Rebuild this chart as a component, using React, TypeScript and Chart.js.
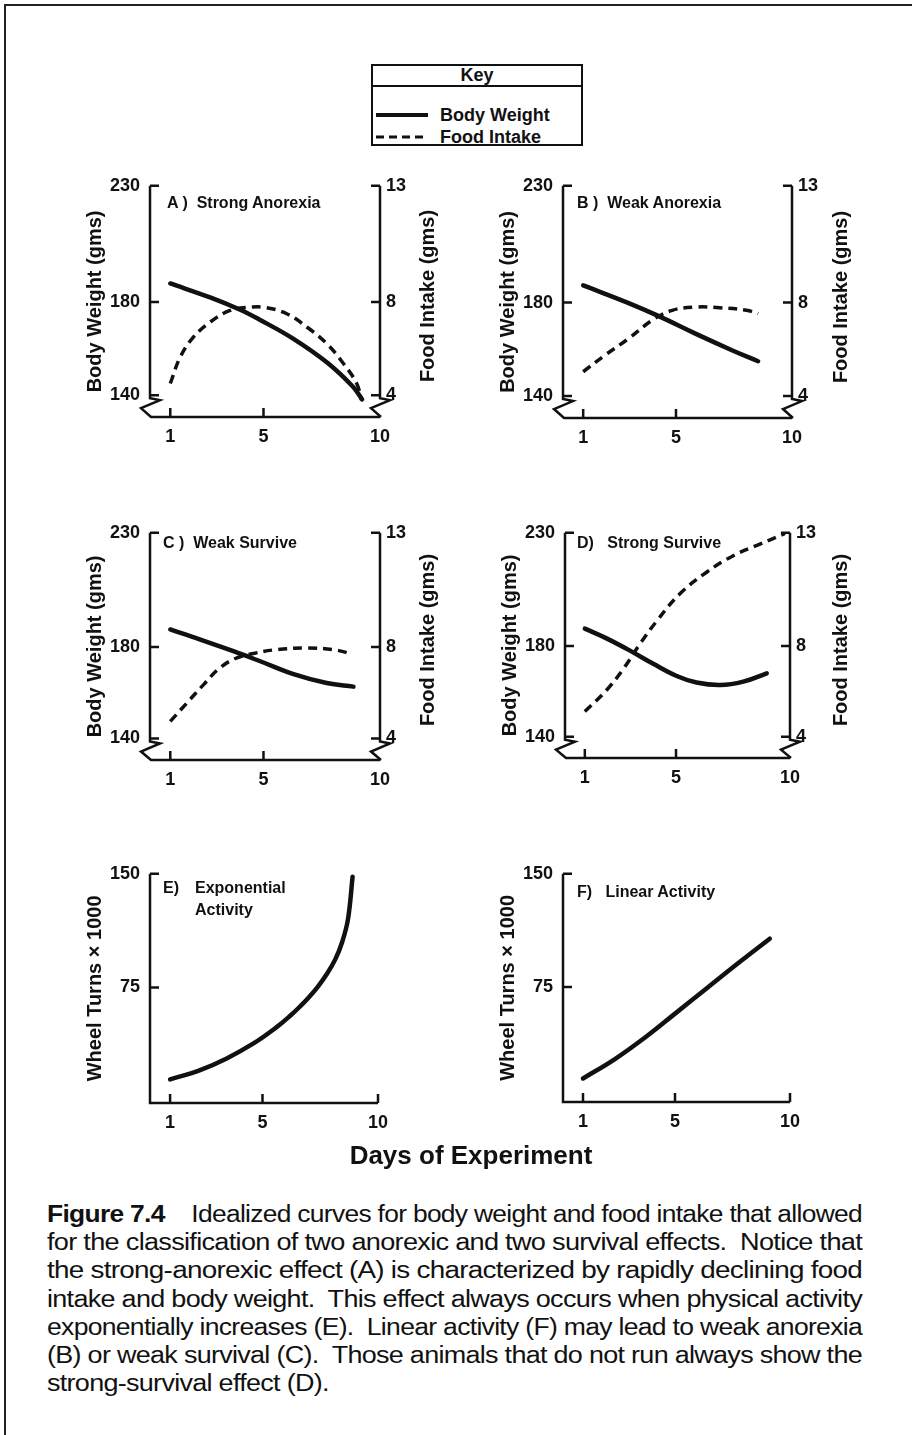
import React, { useEffect, useLayoutEffect, useRef } from "react";
import { Chart, registerables } from "chart.js";

Chart.register(...registerables);

const INK = "#111111";
const FONT = "'Liberation Sans', Arial, Helvetica, sans-serif";

// ---------- axis ticks ----------
const dayTicks = [1, 5, 10];
const weightTicks = [140, 180, 230];
const foodTicks = [4, 8, 13];
const wheelTicks = [75, 150];

// ---------- A) Strong Anorexia ----------
const aWeightDays = [1, 2.71, 4.0, 4.86, 6.27, 7.73, 8.84, 9.23];
const aWeight = [188.0, 182.0, 176.7, 172.3, 164.3, 154.0, 143.6, 138.2];
const aFoodDays = [1, 1.43, 2.0, 2.71, 3.57, 4.43, 5.14, 6.0, 6.86, 7.71, 8.43, 9.0, 9.21];
const aFood = [4.5, 5.64, 6.5, 7.14, 7.64, 7.78, 7.76, 7.5, 6.93, 6.22, 5.36, 4.5, 3.79];

// ---------- B) Weak Anorexia ----------
const bWeightDays = [1, 2.96, 4.26, 5.86, 7.46, 8.54];
const bWeight = [187.4, 179.8, 174.2, 166.6, 159.4, 154.9];
const bFoodDays = [1, 1.94, 2.96, 3.97, 4.84, 5.86, 6.87, 8.03, 8.54];
const bFood = [5.04, 5.75, 6.46, 7.24, 7.67, 7.81, 7.78, 7.67, 7.53];

// ---------- C) Weak Survive ----------
const cWeightDays = [1, 2.29, 3.71, 4.86, 6.29, 7.71, 8.86];
const cWeight = [187.7, 183.3, 178.2, 173.8, 168.2, 164.3, 162.7];
const cFoodDays = [1, 1.71, 2.43, 3.14, 3.86, 4.57, 5.57, 6.86, 8.0, 8.79];
const cFood = [4.75, 5.55, 6.36, 7.1, 7.53, 7.72, 7.89, 7.96, 7.89, 7.7];

// ---------- D) Strong Survive ----------
const dWeightDays = [1, 1.95, 2.98, 4.0, 5.03, 5.9, 6.93, 7.95, 8.98];
const dWeight = [187.7, 183.4, 178.0, 172.2, 166.8, 163.9, 162.8, 164.3, 168.0];
const dFoodDays = [1, 1.95, 2.68, 3.41, 4.15, 5.17, 6.34, 7.51, 8.68, 9.78];
const dFood = [5.11, 6.05, 6.98, 8.08, 9.1, 10.31, 11.26, 11.99, 12.5, 12.97];

// ---------- E) Exponential Activity ----------
const eDays = [1, 2.3, 3.45, 4.61, 5.57, 6.2, 6.63, 7.0, 7.4, 7.77, 8.15, 8.45, 8.7, 8.9];
const eTurns = [14.3, 20.4, 28.1, 38.0, 48.3, 56.3, 62.5, 68.4, 75.6, 83.5, 93.5, 105.0, 120.0, 148.0];

// ---------- F) Linear Activity ----------
const fDays = [1, 2.37, 3.81, 4.96, 6.41, 7.85, 9.12];
const fTurns = [14.3, 27.0, 42.8, 56.8, 74.5, 92.0, 107.0];

// ---------- caption ----------
const captionLines = [
  "Idealized curves for body weight and food intake that allowed",
  "for the classification of two anorexic and two survival effects.  Notice that",
  "the strong-anorexic effect (A) is characterized by rapidly declining food",
  "intake and body weight.  This effect always occurs when physical activity",
  "exponentially increases (E).  Linear activity (F) may lead to weak anorexia",
  "(B) or weak survival (C).  Those animals that do not run always show the",
  "strong-survival effect (D).",
];

type Pt = { x: number; y: number };
const pts = (days: number[], vals: number[]): Pt[] => days.map((d, i) => ({ x: d, y: vals[i] }));

type Area = { L: number; R: number; T: number; B: number };
type PanelSpec = {
  id: string;
  area: Area;
  dual: boolean;
  main: Pt[];
  food?: Pt[];
};

const panels: PanelSpec[] = [
  { id: "A", area: { L: 150, R: 380, T: 185, B: 417 }, dual: true, main: pts(aWeightDays, aWeight), food: pts(aFoodDays, aFood) },
  { id: "B", area: { L: 563, R: 792, T: 185, B: 418 }, dual: true, main: pts(bWeightDays, bWeight), food: pts(bFoodDays, bFood) },
  { id: "C", area: { L: 150, R: 380, T: 532, B: 760 }, dual: true, main: pts(cWeightDays, cWeight), food: pts(cFoodDays, cFood) },
  { id: "D", area: { L: 565, R: 790, T: 532, B: 758 }, dual: true, main: pts(dWeightDays, dWeight), food: pts(dFoodDays, dFood) },
  { id: "E", area: { L: 150, R: 378, T: 873, B: 1103 }, dual: false, main: pts(eDays, eTurns) },
  { id: "F", area: { L: 563, R: 790, T: 873, B: 1102 }, dual: false, main: pts(fDays, fTurns) },
];

const PAD_L = 100;
const PAD_T = 20;
const AXIS_B = 48;

function Panel({ spec }: { spec: PanelSpec }) {
  const ref = useRef<HTMLCanvasElement>(null);
  const { L, R, T, B } = spec.area;
  const padR = spec.dual ? 90 : 40;
  const w = PAD_L + (R - L) + padR;
  const h = PAD_T + (B - T) + AXIS_B;

  useEffect(() => {
    if (!ref.current) return;
    const tickFont = { family: FONT, size: 18, weight: "bold" as const };
    const fixTicks = (vals: number[]) => (s: any) => {
      s.ticks = vals.map((v) => ({ value: v }));
    };

    const frame = {
      id: "axisFrame",
      afterDatasetsDraw(chart: any) {
        const { ctx, chartArea: a, scales } = chart;
        const xs = scales.x;
        const ys = scales.y;
        const y1 = scales.y1;
        const tk = 9;
        ctx.save();
        ctx.strokeStyle = INK;
        ctx.lineWidth = 2.5;
        ctx.lineJoin = "miter";
        ctx.lineCap = "butt";
        const Lx = a.left, Rx = a.right, Ty = a.top, By = a.bottom;
        if (spec.dual) {
          const pl = ys.getPixelForValue(weightTicks[0]);
          ctx.beginPath();
          ctx.moveTo(Lx, Ty);
          ctx.lineTo(Lx, pl + 3);
          ctx.lineTo(Lx + 10, pl + 5);
          ctx.lineTo(Lx - 9, pl + 13);
          ctx.lineTo(Lx + 1, By);
          ctx.lineTo(Rx, By);
          ctx.stroke();
          const pr = y1.getPixelForValue(foodTicks[0]);
          ctx.beginPath();
          ctx.moveTo(Rx, Ty);
          ctx.lineTo(Rx, pr + 3);
          ctx.lineTo(Rx + 10, pr + 5);
          ctx.lineTo(Rx - 9, pr + 13);
          ctx.lineTo(Rx + 1, By);
          ctx.stroke();
          ctx.beginPath();
          foodTicks.forEach((v) => {
            const p = y1.getPixelForValue(v);
            ctx.moveTo(Rx, p);
            ctx.lineTo(Rx - tk, p);
          });
          ctx.stroke();
        } else {
          ctx.beginPath();
          ctx.moveTo(Lx, Ty);
          ctx.lineTo(Lx, By);
          ctx.lineTo(Rx, By);
          ctx.stroke();
        }
        ctx.beginPath();
        (spec.dual ? weightTicks : wheelTicks).forEach((v) => {
          const p = ys.getPixelForValue(v);
          ctx.moveTo(Lx, p);
          ctx.lineTo(Lx + tk, p);
        });
        dayTicks.forEach((v) => {
          if (spec.dual && v === dayTicks[dayTicks.length - 1]) return;
          const p = xs.getPixelForValue(v);
          ctx.moveTo(p, By);
          ctx.lineTo(p, By - tk);
        });
        ctx.stroke();
        ctx.restore();
      },
    };

    const scales: any = {
      x: {
        type: "linear",
        min: 0.13,
        max: 10,
        afterBuildTicks: fixTicks(dayTicks),
        afterFit: (s: any) => {
          s.height = AXIS_B;
        },
        grid: { display: false, drawTicks: false },
        border: { display: false },
        ticks: { font: tickFont, color: INK, padding: 9, autoSkip: false, maxRotation: 0 },
      },
      y: {
        type: "linear",
        position: "left",
        min: spec.dual ? 130.6 : -1.3,
        max: spec.dual ? 230 : 150,
        afterBuildTicks: fixTicks(spec.dual ? weightTicks : wheelTicks),
        afterFit: (s: any) => {
          s.width = PAD_L;
        },
        grid: { display: false, drawTicks: false },
        border: { display: false },
        ticks: { font: tickFont, color: INK, padding: 10, autoSkip: false },
        title: {
          display: true,
          text: spec.dual ? "Body Weight (gms)" : "Wheel Turns \u00d7 1000",
          font: { family: FONT, size: 20, weight: "bold" },
          color: INK,
          padding: { top: 33, bottom: 0 },
        },
      },
    };
    if (spec.dual) {
      scales.y1 = {
        type: "linear",
        position: "right",
        min: 3.06,
        max: 13,
        afterBuildTicks: fixTicks(foodTicks),
        afterFit: (s: any) => {
          s.width = padR;
        },
        grid: { display: false, drawTicks: false },
        border: { display: false },
        ticks: { font: tickFont, color: INK, padding: 6, autoSkip: false },
      };
    }

    const datasets: any[] = [
      {
        label: spec.dual ? "Body Weight" : "Wheel Turns",
        data: spec.main,
        yAxisID: "y",
        borderColor: INK,
        borderWidth: 4.5,
        pointRadius: 0,
        tension: 0.4,
        borderCapStyle: "round",
        fill: false,
      },
    ];
    if (spec.food) {
      datasets.push({
        label: "Food Intake",
        data: spec.food,
        yAxisID: "y1",
        borderColor: INK,
        borderWidth: 3.5,
        borderDash: [9, 6],
        pointRadius: 0,
        tension: 0.4,
        fill: false,
      });
    }

    const chart = new Chart(ref.current, {
      type: "line",
      data: { datasets },
      options: {
        animation: false,
        responsive: false,
        maintainAspectRatio: false,
        devicePixelRatio: 1,
        layout: { padding: { top: PAD_T, left: 0, right: spec.dual ? 0 : padR, bottom: 0 } },
        plugins: {
          legend: { display: false },
          tooltip: { enabled: false },
          title: { display: false },
        },
        scales,
      },
      plugins: [frame],
    } as any);
    return () => chart.destroy();
  }, []);

  return (
    <canvas
      ref={ref}
      width={w}
      height={h}
      style={{ position: "absolute", left: L - PAD_L, top: T - PAD_T, width: w, height: h }}
    />
  );
}

const labelStyle: React.CSSProperties = {
  position: "absolute",
  fontFamily: FONT,
  fontWeight: "bold",
  fontSize: 16,
  lineHeight: "16px",
  whiteSpace: "pre",
  color: INK,
};

function PanelLabel({ x, y, text }: { x: number; y: number; text: string }) {
  return <div style={{ ...labelStyle, left: x, top: y - 8 }}>{text}</div>;
}

function RightTitle({ cx, cy }: { cx: number; cy: number }) {
  return (
    <div
      style={{
        position: "absolute",
        left: cx,
        top: cy,
        transform: "translate(-50%, -50%) rotate(-90deg)",
        fontFamily: FONT,
        fontWeight: "bold",
        fontSize: 20,
        whiteSpace: "nowrap",
        color: INK,
      }}
    >
      Food Intake (gms)
    </div>
  );
}

function Key() {
  const row: React.CSSProperties = {
    position: "absolute",
    left: 0,
    height: 20,
    display: "flex",
    alignItems: "center",
    fontFamily: FONT,
    fontWeight: "bold",
    fontSize: 18,
    color: INK,
    whiteSpace: "nowrap",
  };
  return (
    <div
      style={{
        position: "absolute",
        left: 371,
        top: 64,
        width: 212,
        height: 82,
        border: `2.5px solid ${INK}`,
        boxSizing: "border-box",
      }}
    >
      <div
        style={{
          position: "absolute",
          left: 0,
          right: 0,
          top: 0,
          height: 19,
          borderBottom: `2px solid ${INK}`,
          textAlign: "center",
          fontFamily: FONT,
          fontWeight: "bold",
          fontSize: 18,
          lineHeight: "19px",
          color: INK,
        }}
      >
        Key
      </div>
      <div style={{ ...row, top: 39 }}>
        <svg width={58} height={10} style={{ marginLeft: 3, marginRight: 6 }}>
          <line x1={0} y1={5} x2={52} y2={5} stroke={INK} strokeWidth={4} />
        </svg>
        Body Weight
      </div>
      <div style={{ ...row, top: 61 }}>
        <svg width={58} height={10} style={{ marginLeft: 3, marginRight: 6 }}>
          <line x1={0} y1={5} x2={52} y2={5} stroke={INK} strokeWidth={3} strokeDasharray="8 5" />
        </svg>
        Food Intake
      </div>
    </div>
  );
}

function Caption() {
  const refs = useRef<(HTMLDivElement | null)[]>([]);
  const TARGET = 815;
  useLayoutEffect(() => {
    const widths = refs.current.map((el) => (el ? el.getBoundingClientRect().width : 0));
    const scales = widths.map((wd) => (wd > 0 ? TARGET / wd : 1));
    const n = scales.length;
    const avg = scales.slice(0, n - 1).reduce((s, v) => s + v, 0) / (n - 1);
    refs.current.forEach((el, i) => {
      if (!el) return;
      const s = i < n - 1 ? scales[i] : avg;
      el.style.transform = `scaleX(${s})`;
    });
  }, []);
  return (
    <>
      {captionLines.map((line, i) => (
        <div
          key={i}
          ref={(el) => {
            refs.current[i] = el;
          }}
          style={{
            position: "absolute",
            left: 47,
            top: 1200 + i * 28.17,
            height: 28,
            lineHeight: "28px",
            fontFamily: "'Liberation Sans Narrow', 'Liberation Sans', Arial, sans-serif",
            fontSize: 23,
            letterSpacing: -0.6,
            whiteSpace: "pre",
            color: INK,
            transformOrigin: "left center",
            display: "inline-block",
          }}
        >
          {i === 0 ? (
            <>
              <span style={{ fontWeight: "bold" }}>Figure 7.4</span>
              {"    " + line}
            </>
          ) : (
            line
          )}
        </div>
      ))}
    </>
  );
}

export default function App() {
  return (
    <div
      style={{
        position: "absolute",
        left: 0,
        top: 0,
        width: 912,
        height: 1435,
        background: "#ffffff",
        overflow: "hidden",
        color: INK,
      }}
    >
      <div
        style={{
          position: "absolute",
          left: 4,
          top: 4,
          width: 920,
          height: 1450,
          borderTop: "2px solid #222",
          borderLeft: "2px solid #222",
        }}
      />
      <Key />
      {panels.map((p) => (
        <Panel key={p.id} spec={p} />
      ))}
      <RightTitle cx={427} cy={296} />
      <RightTitle cx={840} cy={297} />
      <RightTitle cx={427} cy={640} />
      <RightTitle cx={840} cy={640} />

      <PanelLabel x={167} y={203} text={"A )  Strong Anorexia"} />
      <PanelLabel x={577} y={203} text={"B )  Weak Anorexia"} />
      <PanelLabel x={163} y={543} text={"C )  Weak Survive"} />
      <PanelLabel x={577} y={543} text={"D)   Strong Survive"} />
      <PanelLabel x={163} y={888} text={"E)"} />
      <PanelLabel x={195} y={888} text={"Exponential"} />
      <PanelLabel x={195} y={910} text={"Activity"} />
      <PanelLabel x={577} y={892} text={"F)   Linear Activity"} />

      <div
        style={{
          position: "absolute",
          left: 471,
          top: 1155,
          transform: "translate(-50%, -50%)",
          fontFamily: FONT,
          fontWeight: "bold",
          fontSize: 26,
          whiteSpace: "nowrap",
          color: INK,
        }}
      >
        Days of Experiment
      </div>
      <Caption />
    </div>
  );
}
